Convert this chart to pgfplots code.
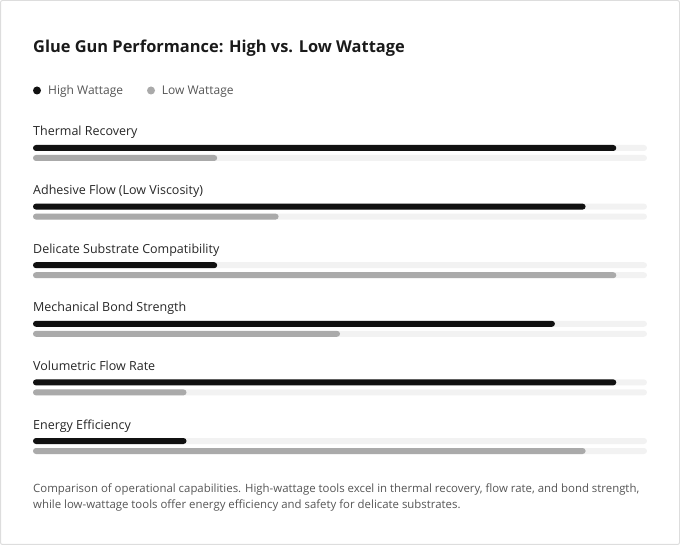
\documentclass[border=0pt]{standalone}
\usepackage{fontspec}
\setmainfont{Open Sans}
\usepackage{pgfplots}
\usepackage{pgfplotstable}
\pgfplotsset{compat=1.18}

\definecolor{hi}{HTML}{111111}
\definecolor{lo}{HTML}{AAAAAA}
\definecolor{track}{HTML}{F2F2F2}
\definecolor{cardline}{HTML}{DDDDDD}
\definecolor{titlec}{HTML}{1A1A1A}
\definecolor{labelc}{HTML}{262626}
\definecolor{mutedc}{HTML}{555555}

% scores out of 100
\pgfplotstableread{
idx high low
0   95   30
1   90   40
2   30   95
3   85   50
4   95   25
5   25   90
}\scores

\tikzset{
  catlabel/.style={anchor=base west, inner sep=0, text=labelc, font=\fontsize{12.5}{15}\selectfont},
  caption/.style={anchor=base west, inner sep=0, text=mutedc, font=\fontsize{11.4}{14}\selectfont},
}

\begin{document}
\begin{tikzpicture}[x=1pt,y=1pt]
\useasboundingbox (0,0) rectangle (680,545);
\draw[cardline, line width=1pt, rounded corners=2pt] (0.5,0.5) rectangle (679.5,544.5);
\begin{axis}[
  at={(33pt,0pt)}, anchor=south west,
  scale only axis, width=614pt, height=545pt,
  xmin=0, xmax=100, ymin=0, ymax=545, y dir=reverse,
  axis lines=none, clip=false,
  every axis plot/.append style={xbar, bar width=6pt, bar shift=0pt, draw=none, rounded corners=3pt},
]
% tracks
\addplot[fill=track] table[x expr=100, y expr=148+58.6*\coordindex] \scores;
\addplot[fill=track] table[x expr=100, y expr=158+58.6*\coordindex] \scores;
% values
\addplot[fill=hi] table[x=high, y expr=148+58.6*\coordindex] \scores;
\addplot[fill=lo] table[x=low, y expr=158+58.6*\coordindex] \scores;

% title and legend
\node[anchor=base west, inner sep=0, text=titlec, font=\bfseries\fontsize{16.4}{20}\selectfont]
  at (axis cs:0,53) {Glue Gun Performance: High vs. Low Wattage};
\fill[hi] ([xshift=4pt]axis cs:0,90.5) circle (4pt);
\node[anchor=base west, inner sep=0, text=mutedc, font=\fontsize{12}{14}\selectfont]
  at ([xshift=15pt]axis cs:0,95) {High Wattage};
\fill[lo] ([xshift=118pt]axis cs:0,90.5) circle (4pt);
\node[anchor=base west, inner sep=0, text=mutedc, font=\fontsize{12}{14}\selectfont]
  at ([xshift=128.7pt]axis cs:0,95) {Low Wattage};

% category labels
\node[catlabel] at (axis cs:0,136) {Thermal Recovery};
\node[catlabel] at (axis cs:0,194.6) {Adhesive Flow (Low Viscosity)};
\node[catlabel] at (axis cs:0,253.2) {Delicate Substrate Compatibility};
\node[catlabel] at (axis cs:0,311.8) {Mechanical Bond Strength};
\node[catlabel] at (axis cs:0,370.4) {Volumetric Flow Rate};
\node[catlabel] at (axis cs:0,429) {Energy Efficiency};

% caption
\node[caption] at (axis cs:0,492)
  {Comparison of operational capabilities. High-wattage tools excel in thermal recovery, flow rate, and bond strength,};
\node[caption] at (axis cs:0,508.3)
  {while low-wattage tools offer energy efficiency and safety for delicate substrates.};
\end{axis}
\end{tikzpicture}
\end{document}
